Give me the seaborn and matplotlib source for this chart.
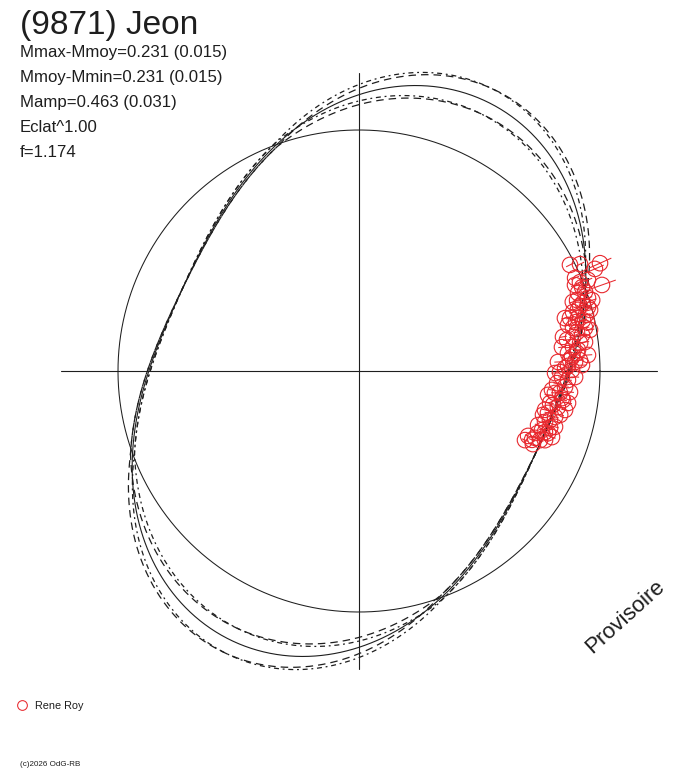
import numpy as np
import matplotlib
matplotlib.use("Agg")
import matplotlib.pyplot as plt
import seaborn as sns

# lightcurve fit (2nd harmonic), magnitudes relative to the mean
OBJECT = "(9871) Jeon"
AMP_HALF = 0.231        # Mmax-Mmoy = Mmoy-Mmin
AMP_ERR = 0.015
PHASE_MAX = 65.0        # angle (deg) of maximum brightness
BAND = 0.05             # spread of the dashed envelope curves on the bright lobes (mag)
BAND_PHASE = 1.2        # phase spread of the envelope curves (deg)
ECLAT_POW = 1.00
F_VAL = 1.174

info_lines = [
    "Mmax-Mmoy=0.231 (0.015)",
    "Mmoy-Mmin=0.231 (0.015)",
    "Mamp=0.463 (0.031)",
    "Eclat^1.00",
    "f=1.174",
]

# observations: rotational phase angle (deg) and magnitude minus mean
obs_angle = [26.7, 25.8, 23.4, 24.1, 19.5, 21.9, 20.6, 19.6, 19.3, 18.0, 17.9, 16.9,
             15.6, 14.8, 15.4, 13.6, 12.8, 12.1, 11.4, 10.1, 8.5, 7.3, 9.0, 6.4,
             4.9, 5.5, 4.7, 3.0, 0.8, 0.3, -1.7, -3.5, -4.4, -6.4, -7.6, -9.5,
             -10.3, -12.5, -13.2, -15.3, -15.9, -17.9, -18.2, -20.8, -20.9, -21.7, -18.9,
             21.7, 17.7, 14.1, 9.2, 6.7, 2.4, -0.3, -2.5, -5.6, -6.2, -9.9, -11.8,
             -14.4, -16.8, -18.2, -21.0, 7.2, 13.9, 12.7, 1.4, 3.8, -8.1, 16.4, 23.3,
             21.7, 16.9, 12.4, 10.1, 9.5, 4.0, 1.5, -0.6, -1.6, -5.7, -7.2, -8.7,
             -13.4, -12.3, -19.1, -22.6, -22.8, -16.6, 14.4, 10.8, 2.8, 2.6, 15.6, -10.7, -20.4]
obs_mag = [0.022, -0.020, -0.070, -0.099, -0.073, 0.013, 0.012, 0.039, 0.007, 0.054, 0.076, 0.032,
           0.064, 0.009, 0.089, 0.073, 0.052, 0.036, 0.107, 0.092, 0.148, 0.061, 0.115, 0.122,
           0.151, 0.099, 0.105, 0.143, 0.170, 0.134, 0.186, 0.211, 0.167, 0.218, 0.177, 0.237,
           0.191, 0.238, 0.195, 0.242, 0.182, 0.245, 0.208, 0.268, 0.237, 0.280, 0.181,
           0.039, 0.003, 0.111, 0.070, 0.179, 0.118, 0.197, 0.154, 0.236, 0.191, 0.219, 0.258,
           0.218, 0.275, 0.226, 0.310, 0.085, 0.033, 0.087, 0.154, 0.132, 0.170, 0.049, 0.026,
           -0.024, -0.012, 0.129, 0.029, 0.166, 0.053, 0.084, 0.224, 0.118, 0.139, 0.255, 0.142,
           0.263, 0.171, 0.262, 0.318, 0.266, 0.206, 0.136, 0.050, 0.093, 0.207, 0.015, 0.151, 0.211]
obs_err = [0.02, 0.02, 0.04, 0.05, 0.06] + [0.02] * 91

observer = "Rene Roy"
credit = "(c)2026 OdG-RB"
stamp = "Provisoire"

# ---------------------------------------------------------------------------
W, H, DPI = 688, 768, 100
CX, CY = 359, 371       # centre of the polar diagram (px)
R_PX = 241              # radius of the mean-brightness circle (px)
S_PX = 325              # half size of the polar axes (px)
INK = "#1e1e1e"
RED = "#e8282e"

sns.set_theme(style="white")
plt.rcParams["font.family"] = ["Liberation Sans", "DejaVu Sans"]


def flux_radius(dm):
    return 10 ** (-0.4 * np.asarray(dm) * ECLAT_POW)


def fit_mag(theta_deg, amp=AMP_HALF, phase=PHASE_MAX):
    return -amp * np.cos(2 * np.radians(theta_deg - phase))


fig = plt.figure(figsize=(W / DPI, H / DPI), dpi=DPI)
ax = fig.add_axes([(CX - S_PX) / W, (H - CY - S_PX) / H, 2 * S_PX / W, 2 * S_PX / H],
                  projection="polar")
ax.set_theta_zero_location("E")
ax.set_theta_direction(1)
ax.grid(False)
ax.set_xticks([])
ax.set_yticks([])
ax.spines["polar"].set_visible(False)
ax.patch.set_alpha(0)

th = np.linspace(0, 360, 1441)
thr = np.radians(th)

# axis cross, reaching the brightest point of the fit
r_axis = flux_radius(-AMP_HALF)
for a in (0, 90, 180, 270):
    ax.plot([np.radians(a)] * 2, [0, r_axis], color=INK, lw=0.8)

# mean brightness circle
ax.plot(thr, np.ones_like(thr), color=INK, lw=0.75)

# envelope curves: wider on the bright lobes, pinned where the data are
styles = [(0, (6, 4)), (2, (4, 3, 1.5, 3))]
for sign in (1, -1):
    for k, dph in enumerate((-BAND_PHASE, BAND_PHASE)):
        base = fit_mag(th, AMP_HALF, PHASE_MAX + dph)
        lobe = np.clip(np.cos(2 * np.radians(th - PHASE_MAX)), 0, None)
        ax.plot(thr, flux_radius(base - sign * BAND * lobe),
                color=INK, lw=0.9, ls=styles[k])

# fitted curve
ax.plot(thr, flux_radius(fit_mag(th)), color=INK, lw=0.8)

# observations with radial error bars
o_th = np.radians(obs_angle)
o_m = np.array(obs_mag)
o_e = np.array(obs_err)
o_r = flux_radius(o_m)
yerr = np.vstack([o_r - flux_radius(o_m + o_e), flux_radius(o_m - o_e) - o_r])
ax.errorbar(o_th, o_r, yerr=yerr, fmt="none", ecolor=RED, elinewidth=0.75, capsize=0, zorder=4)
sns.scatterplot(x=o_th, y=o_r, ax=ax, s=125, marker="o", facecolors="none",
                edgecolor=RED, linewidth=0.8, zorder=5, legend=False)
ax.set_ylim(0, S_PX / R_PX)


def px(x, y):
    return x / W, 1 - y / H


fig.text(*px(20, 34), OBJECT, fontsize=24, color=INK, va="baseline", ha="left")
for i, line in enumerate(info_lines):
    fig.text(*px(20, 57 + 25 * i), line, fontsize=12.1, color=INK, va="baseline", ha="left")

# observer legend
fig.add_artist(plt.Line2D([22 / W], [1 - 705 / H], marker="o", ms=7, mfc="none",
                          mec=RED, mew=0.75, ls="none", transform=fig.transFigure))
fig.text(*px(35, 709), observer, fontsize=7.8, color=INK, va="baseline", ha="left")
fig.text(*px(20, 766), credit, fontsize=5.8, color=INK, va="baseline", ha="left")

fig.text(*px(625, 617), stamp, fontsize=16, color=INK, rotation=42,
         ha="center", va="center", rotation_mode="anchor")

fig.savefig("out.png", dpi=DPI, facecolor="white")
